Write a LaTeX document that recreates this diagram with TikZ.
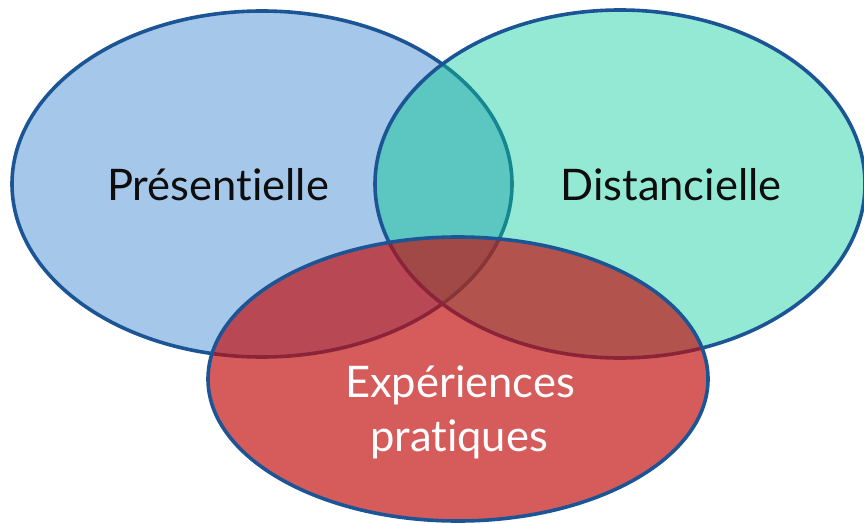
\documentclass[tikz,border=0pt]{standalone}
\usepackage{fontspec}
\setmainfont{Lato}[Ligatures={NoCommon}]
\definecolor{bfill}{RGB}{165,199,233}
\definecolor{gfill}{RGB}{147,233,211}
\definecolor{tfill}{RGB}{92,198,192}
\definecolor{edge}{RGB}{28,85,150}
\definecolor{tedge}{RGB}{22,135,145}
\definecolor{rbase}{RGB}{194,12,12}
\definecolor{txt}{RGB}{13,13,13}
\begin{document}
\begin{tikzpicture}[x=1pt,y=-1pt,
  ol/.style={line width=3.6pt},
  lab/.style={font=\fontsize{43.5}{50}\selectfont, anchor=base, inner sep=0pt},
  eb/.style={x radius=250pt, y radius=173pt},
  eg/.style={x radius=245pt, y radius=174pt},
  er/.style={x radius=250pt, y radius=142pt}]
\useasboundingbox (0,0) rectangle (864,524);
\coordinate (cb) at (262,184);
\coordinate (cg) at (620,184);
\coordinate (cr) at (458,379);
% blue
\fill[bfill] (cb) ellipse [eb];
\draw[edge,ol] (cb) ellipse [eb];
% green
\fill[gfill] (cg) ellipse [eg];
\begin{scope}
  \clip (cb) ellipse [eb];
  \fill[tfill] (cg) ellipse [eg];
\end{scope}
\begin{scope}
  \clip (cg) ellipse [eg];
  \draw[tedge,ol] (cb) ellipse [eb];
\end{scope}
\draw[edge,ol] (cg) ellipse [eg];
% red
\fill[rbase, fill opacity=0.67] (cr) ellipse [er];
\draw[edge,ol] (cr) ellipse [er];
% labels
\node[lab, text=txt] (pres) at (218,200) {Présentielle};
\node[lab, text=txt] (dist) at (671,200) {Distancielle};
\node[lab, text=white] (exp1) at (460,397) {Expériences};
\node[lab, text=white] (exp2) at (459,451) {pratiques};
\end{tikzpicture}
\end{document}
